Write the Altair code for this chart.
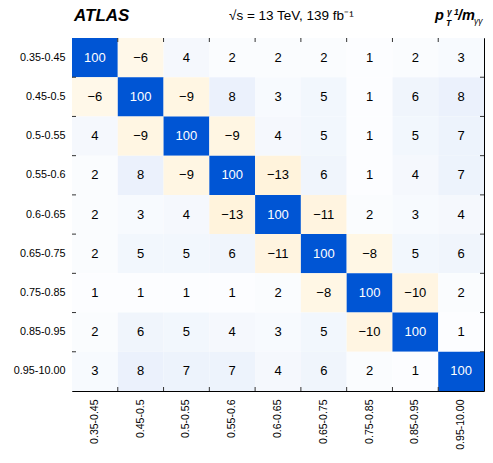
import altair as alt
import pandas as pd

bins = ["0.35-0.45", "0.45-0.5", "0.5-0.55", "0.55-0.6", "0.6-0.65",
        "0.65-0.75", "0.75-0.85", "0.85-0.95", "0.95-10.00"]

r0 = [100, -6, 4, 2, 2, 2, 1, 2, 3]
r1 = [-6, 100, -9, 8, 3, 5, 1, 6, 8]
r2 = [4, -9, 100, -9, 4, 5, 1, 5, 7]
r3 = [2, 8, -9, 100, -13, 6, 1, 4, 7]
r4 = [2, 3, 4, -13, 100, -11, 2, 3, 4]
r5 = [2, 5, 5, 6, -11, 100, -8, 5, 6]
r6 = [1, 1, 1, 1, 2, -8, 100, -10, 2]
r7 = [2, 6, 5, 4, 3, 5, -10, 100, 1]
r8 = [3, 8, 7, 7, 4, 6, 2, 1, 100]
rows = [r0, r1, r2, r3, r4, r5, r6, r7, r8]

W, H = 412, 353
FONT = "Liberation Sans"

recs = []
for i, row in enumerate(rows):
    for j, v in enumerate(row):
        recs.append({"row": bins[i], "col": bins[j], "v": v,
                     "label": str(v).replace("-", "\u2212")})
df = pd.DataFrame(recs)
bdf = pd.DataFrame({"b": bins[1:]})

xs = alt.Scale(domain=bins, paddingInner=0, paddingOuter=0)
ys = alt.Scale(domain=bins, paddingInner=0, paddingOuter=0)

base = alt.Chart(df)

cells = base.mark_rect().encode(
    x=alt.X("col:N", scale=xs, sort=bins,
            axis=alt.Axis(title=None, labelAngle=270, labelFontSize=10.5,
                          labelFont=FONT, labelColor="black", labelPadding=8,
                          ticks=False, domain=False, grid=False)),
    y=alt.Y("row:N", scale=ys, sort=bins,
            axis=alt.Axis(title=None, labelFontSize=10.8, labelFont=FONT,
                          labelColor="black", labelPadding=7,
                          ticks=False, domain=False, grid=False)),
    color=alt.Color("v:Q", legend=None,
                    scale=alt.Scale(domain=[-13, -6, 0, 100],
                                    range=["#fff3dc", "#fff8e9", "#ffffff", "#0055d4"],
                                    interpolate="rgb")),
)

texts = base.mark_text(font=FONT, fontSize=13).encode(
    x=alt.X("col:N", scale=xs, sort=bins),
    y=alt.Y("row:N", scale=ys, sort=bins),
    text="label:N",
    color=alt.condition("datum.v >= 50", alt.value("white"), alt.value("black")),
)

bt = alt.Chart(bdf)
tick_col = "#333333"
top_ticks = bt.mark_rule(color=tick_col).encode(
    x=alt.X("b:N", scale=xs, bandPosition=0), y=alt.value(0), y2=alt.value(4))
bot_ticks = bt.mark_rule(color=tick_col).encode(
    x=alt.X("b:N", scale=xs, bandPosition=0), y=alt.value(H - 4), y2=alt.value(H))
left_ticks = bt.mark_rule(color=tick_col).encode(
    y=alt.Y("b:N", scale=ys, bandPosition=0), x=alt.value(0), x2=alt.value(4))
right_ticks = bt.mark_rule(color=tick_col).encode(
    y=alt.Y("b:N", scale=ys, bandPosition=0), x=alt.value(W - 4), x2=alt.value(W))

def label(txt, x, y, size, weight="normal", style="normal"):
    return alt.Chart(pd.DataFrame({"t": [txt]})).mark_text(
        font=FONT, fontSize=size, fontWeight=weight, fontStyle=style,
        align="left", baseline="alphabetic", color="black").encode(
        text="t:N", x=alt.value(x), y=alt.value(y))

hdr = [
    label("ATLAS", 2, -17, 17, "bold", "italic"),
    label("\u221As = 13 TeV, 139 fb\u207B\u00B9", 157, -18, 13.5),
    label("p", 363, -18, 14.5, "bold", "italic"),
    label("\u03B3 1", 375, -23, 8.5, "bold", "italic"),
    label("T", 374, -12, 8.5, "bold", "italic"),
    label("/m", 386, -18, 14.5, "bold", "italic"),
    label("\u03B3\u03B3", 402, -14, 8.5, "normal", "italic"),
]

chart = alt.layer(cells, texts, top_ticks, bot_ticks, left_ticks, right_ticks, *hdr).properties(
    width=W, height=H,
    autosize=alt.AutoSizeParams(type="none"),
    padding={"left": 64, "top": 30, "right": 1, "bottom": 64},
).configure_view(stroke="black", strokeWidth=1).configure_axis(labelColor="black")

chart.save("out.html", embed_options={"renderer": "svg", "actions": False})
